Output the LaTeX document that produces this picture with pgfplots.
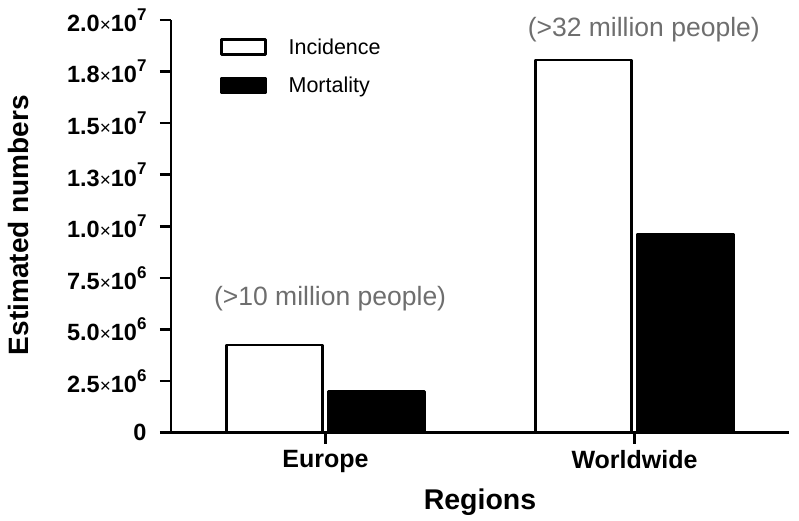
\documentclass[border=0pt]{standalone}
\usepackage{pgfplots}
\pgfplotsset{compat=1.18}
\usepackage{fontspec}
\setmainfont{Liberation Sans}
\definecolor{anngray}{HTML}{6E6E6E}
\newcommand\sci[2]{\mbox{\bfseries #1{\mdseries\fontsize{19}{19}\selectfont ×}10\raisebox{0.48em}{\fontsize{17}{17}\selectfont #2}}}
\begin{document}
\begin{tikzpicture}
\useasboundingbox (0,0) rectangle (799pt,521pt);
\begin{axis}[
  at={(171pt,88.3pt)}, anchor=south west,
  scale only axis, width=618pt, height=412.7pt,
  xmin=-0.5, xmax=1.5, ymin=0, ymax=2e7,
  axis x line*=bottom, axis y line*=left,
  axis line style={-, line width=2.6pt},
  clip=false,
  xtick={0,1}, xticklabels={Europe, Worldwide},
  ytick={0,2.5e6,5e6,7.5e6,1e7,1.25e7,1.5e7,1.75e7,2e7},
  yticklabels={\textbf{0},\sci{2.5}{6},\sci{5.0}{6},\sci{7.5}{6},\sci{1.0}{7},\sci{1.3}{7},\sci{1.5}{7},\sci{1.8}{7},\sci{2.0}{7}},
  scaled y ticks=false,
  tick align=outside, major tick length=11pt,
  tick style={line width=2.6pt, black},
  minor tick num=0,
  x tick label style={font=\fontsize{25}{27}\selectfont\bfseries, yshift=-3pt},
  y tick label style={font=\fontsize{23.5}{26}\selectfont, xshift=-10pt},
  xlabel={Regions}, ylabel={Estimated numbers},
  xlabel style={font=\fontsize{28.5}{30}\selectfont\bfseries, at={(axis description cs:0.5,-0.168)}, anchor=center},
  ylabel style={font=\fontsize{28}{30}\selectfont\bfseries, at={(axis description cs:-0.247,0.503)}, anchor=center},
  legend style={draw=none, fill=none, at={(axis description cs:0.079,0.96)}, anchor=north west,
    font=\fontsize{21.5}{25}\selectfont, row sep=17pt, inner sep=0pt},
  legend cell align=left,
  legend image code/.code={\draw[#1, line width=2.6pt, line join=round] (0pt,-7.5pt) rectangle (44pt,7.5pt);},
  /tikz/every odd column/.append style={column sep=20pt},
]
\addplot[ybar, bar width=0.31, bar shift=-0.165, fill=white, draw=black, line width=2.6pt, line join=round]
  coordinates {(0,4.25e6) (1,1.806e7)};
\addplot[ybar, bar width=0.31, bar shift=0.165, fill=black, draw=black, line width=2.6pt, line join=round]
  coordinates {(0,2.0e6) (1,9.63e6)};
\legend{Incidence, Mortality}
\node[anngray, font=\fontsize{26.5}{30}\selectfont] at (axis cs:0.015,6.5e6) {(>10 million people)};
\node[anngray, font=\fontsize{26.5}{30}\selectfont] at (axis cs:1.03,1.955e7) {(>32 million people)};
\end{axis}
\end{tikzpicture}
\end{document}
